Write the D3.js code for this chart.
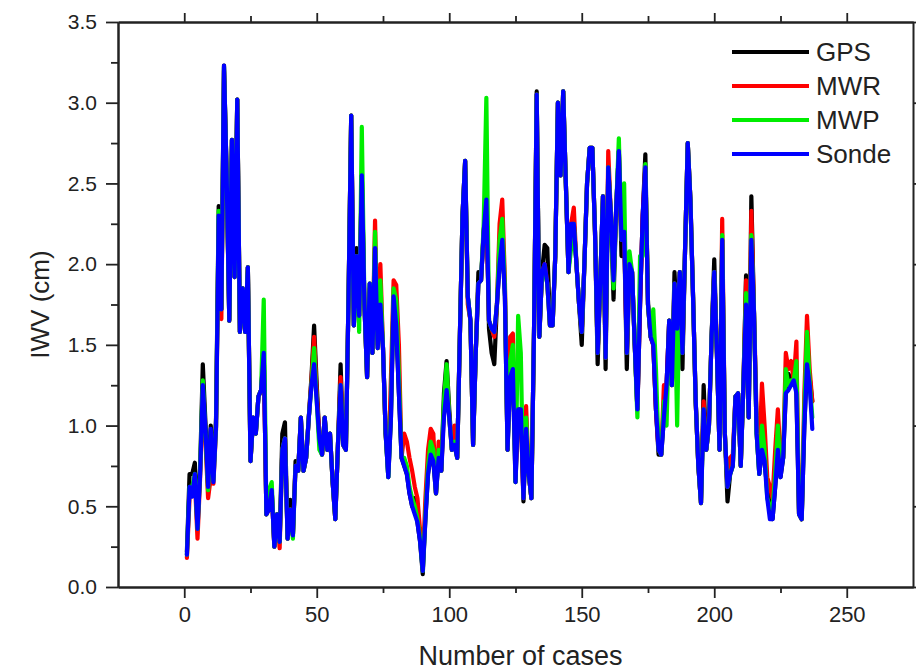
<!DOCTYPE html>
<html><head><meta charset="utf-8">
<script src="https://cdn.jsdelivr.net/npm/d3@7"></script>
<style>body{margin:0;background:#fff}svg{display:block}text{font-family:"Liberation Sans",Arial,sans-serif;fill:#222}</style>
</head><body><svg id="c" width="916" height="670"></svg>
<script>
const seriesNames = ["GPS","MWR","MWP","Sonde"];
const seriesColors = ["#000000","#ff0000","#00ee00","#0000ff"];
const xTickValues = [0,50,100,150,200,250];
const yTickValues = [0,0.5,1,1.5,2,2.5,3,3.5];

const sonde = [0.20,0.62,0.56,0.70,0.36,0.70,1.25,0.98,0.62,0.98,0.65,1.00,2.30,1.72,3.23,2.55,1.65,2.77,1.92,3.02,
1.58,1.85,1.58,1.98,0.78,1.05,0.95,1.18,1.22,1.45,0.45,0.48,0.60,0.25,0.45,0.28,0.85,0.92,0.30,0.48,
0.32,0.75,0.72,1.05,0.72,0.80,1.05,1.25,1.38,1.15,0.92,0.82,1.05,0.85,0.95,0.65,0.42,0.88,1.25,0.88,
0.85,1.80,2.92,1.62,2.05,1.68,2.55,1.75,1.30,1.88,1.45,2.10,1.48,1.75,1.48,0.95,0.68,1.05,1.80,1.62,
1.20,0.80,0.75,0.70,0.58,0.50,0.45,0.40,0.28,0.10,0.42,0.70,0.82,0.78,0.58,0.80,0.72,1.05,1.22,1.05,
0.85,0.88,0.80,1.55,2.30,2.64,1.80,1.65,0.88,1.45,1.88,1.90,2.20,2.40,1.65,1.60,1.58,1.75,2.00,2.15,
1.80,0.85,1.30,1.35,0.65,1.10,1.10,0.55,0.98,0.70,0.55,1.60,3.05,1.55,1.95,2.00,1.88,1.62,1.62,2.05,
3.00,2.55,3.07,2.50,1.95,2.25,2.25,2.00,1.75,1.58,2.00,2.50,2.72,2.72,2.20,1.45,1.90,2.42,1.42,2.60,
2.30,1.90,2.35,2.70,2.15,2.20,1.45,2.00,1.95,1.50,1.10,1.75,2.30,2.60,1.75,1.55,1.50,1.10,0.85,0.82,
1.05,1.25,1.65,1.25,1.88,1.60,1.95,1.45,2.10,2.75,2.40,1.80,1.15,0.75,0.52,1.10,0.85,1.00,1.55,1.95,
1.45,0.85,2.15,0.95,0.62,0.70,0.75,1.18,1.20,0.75,1.25,1.75,1.05,2.15,1.70,0.95,0.70,0.85,0.78,0.55,
0.42,0.42,0.62,0.85,0.68,0.80,1.20,1.22,1.25,1.28,1.20,0.45,0.42,1.00,1.38,1.25,0.98];

const gps = [0.22,0.70,0.70,0.77,0.40,0.74,1.38,1.02,0.64,1.00,0.70,1.05,2.36,1.72,3.23,2.55,1.65,2.77,1.92,3.02,
1.58,1.85,1.58,1.98,0.78,1.05,0.95,1.18,1.22,1.45,0.45,0.50,0.60,0.25,0.45,0.28,0.95,1.02,0.30,0.54,
0.32,0.78,0.72,1.05,0.72,0.80,1.05,1.30,1.62,1.25,0.92,0.82,1.05,0.85,0.95,0.65,0.42,0.88,1.38,0.88,
0.85,1.80,2.92,1.62,2.10,1.68,2.55,1.75,1.30,1.88,1.45,2.10,1.50,1.75,1.48,0.95,0.68,1.05,1.80,1.62,
1.20,0.80,0.75,0.70,0.58,0.50,0.55,0.40,0.28,0.08,0.42,0.70,0.82,0.78,0.58,0.80,0.72,1.20,1.40,1.10,
0.85,0.88,0.80,1.55,2.30,2.64,1.80,1.65,0.88,1.45,1.95,1.90,2.20,2.40,1.60,1.45,1.38,1.75,2.00,2.15,
1.80,0.85,1.30,1.35,0.65,1.10,1.10,0.53,0.98,0.70,0.55,1.60,3.07,1.55,1.95,2.12,2.10,1.62,1.62,2.05,
3.00,2.55,3.07,2.50,1.95,2.25,2.25,2.00,1.75,1.50,2.00,2.50,2.72,2.72,2.20,1.38,1.90,2.42,1.35,2.60,
2.30,1.78,2.35,2.70,2.05,2.20,1.35,2.00,1.95,1.50,1.10,1.75,2.30,2.68,1.75,1.55,1.50,1.10,0.82,0.82,
1.05,1.25,1.65,1.25,1.95,1.60,1.95,1.35,2.10,2.75,2.40,1.80,1.15,0.75,0.52,1.25,0.85,1.00,1.55,2.03,
1.45,0.85,2.15,0.95,0.53,0.70,0.75,1.18,1.20,0.75,1.25,1.93,1.05,2.42,1.70,0.95,0.70,0.85,0.78,0.60,
0.55,0.42,0.62,0.85,0.68,0.80,1.20,1.32,1.25,1.35,1.20,0.45,0.42,1.00,1.38,1.30,1.15];

const mwr = [0.18,0.55,0.60,0.66,0.30,0.68,1.22,0.90,0.55,0.68,0.64,0.98,2.25,1.66,3.20,2.55,1.65,2.77,1.92,3.02,
1.58,1.85,1.58,1.98,0.78,1.05,0.95,1.18,1.22,1.45,0.45,0.48,0.60,0.25,0.45,0.24,0.85,0.92,0.30,0.48,
0.32,0.75,0.72,1.05,0.72,0.80,1.05,1.28,1.55,1.20,0.92,0.82,1.05,0.85,0.95,0.65,0.42,0.88,1.30,0.88,
0.85,1.80,2.92,1.62,2.05,1.68,2.55,1.75,1.30,1.85,1.45,2.27,1.48,2.00,1.48,0.95,0.72,1.30,1.90,1.87,
1.50,0.80,0.95,0.90,0.80,0.72,0.62,0.55,0.35,0.15,0.55,0.85,0.98,0.95,0.58,0.90,0.72,1.10,1.32,1.05,
0.85,1.00,0.80,1.55,2.30,2.64,1.75,1.65,0.88,1.45,1.88,1.90,2.20,2.40,1.65,1.60,1.55,1.75,2.25,2.40,
1.90,0.85,1.55,1.57,0.70,1.10,1.10,0.55,1.12,0.70,0.55,1.60,3.05,1.55,1.95,2.00,1.88,1.62,1.62,2.05,
3.00,2.55,3.07,2.50,1.95,2.25,2.35,2.00,1.75,1.58,2.00,2.50,2.72,2.72,2.20,1.45,1.90,2.42,1.42,2.70,
2.30,1.90,2.35,2.70,2.15,2.20,1.45,2.00,1.95,1.50,1.10,1.75,2.30,2.60,1.75,1.55,1.50,1.10,0.85,0.82,
1.25,1.25,1.65,1.25,1.88,1.60,1.95,1.45,2.10,2.75,2.40,1.80,1.15,0.75,0.52,1.15,0.85,1.00,1.55,1.95,
1.45,0.85,2.28,0.95,0.62,0.80,0.82,1.18,1.20,0.75,1.25,1.90,1.05,2.33,1.70,1.05,0.80,1.26,1.00,0.68,
0.62,0.55,0.85,1.10,0.80,0.80,1.45,1.35,1.40,1.28,1.52,0.45,0.42,1.20,1.68,1.35,1.15];

const mwp = [0.20,0.62,0.62,0.70,0.36,0.72,1.28,0.95,0.60,0.95,0.66,1.00,2.33,1.72,3.22,2.55,1.65,2.77,1.92,3.02,
1.58,1.85,1.58,1.98,0.78,1.05,0.95,1.18,1.22,1.78,0.45,0.60,0.65,0.25,0.45,0.28,0.85,0.92,0.30,0.48,
0.30,0.75,0.72,1.05,0.72,0.80,1.05,1.25,1.48,1.15,0.85,0.82,1.05,0.85,0.95,0.65,0.42,0.88,1.25,0.88,
0.85,1.80,2.92,1.62,2.05,1.58,2.85,1.75,1.30,1.88,1.45,2.20,1.48,1.90,1.48,0.95,0.68,1.10,1.85,1.78,
1.30,0.80,0.80,0.75,0.62,0.55,0.50,0.42,0.30,0.10,0.45,0.75,0.90,0.85,0.58,0.85,0.72,1.15,1.38,1.05,
0.85,0.90,0.80,1.55,2.30,2.64,1.80,1.65,0.88,1.45,1.88,1.90,2.25,3.03,1.65,1.60,1.58,1.75,2.15,2.28,
1.85,0.85,1.40,1.50,0.65,1.68,1.45,0.55,1.05,0.70,0.55,1.60,3.05,1.55,1.95,1.95,1.88,1.62,1.62,2.05,
3.00,2.55,3.07,2.50,1.95,2.10,2.25,2.00,1.75,1.58,2.00,2.50,2.72,2.72,2.20,1.45,1.90,2.42,1.42,2.60,
2.30,1.85,2.35,2.78,2.15,2.50,1.45,2.08,1.95,1.50,1.05,2.05,2.05,2.62,1.75,1.55,1.72,1.35,0.85,0.82,
1.15,1.00,1.65,1.25,1.88,1.00,1.95,1.45,2.10,2.75,2.40,1.80,1.15,0.75,0.52,1.10,0.85,1.00,1.55,1.95,
1.45,0.85,2.18,0.95,0.62,0.70,0.75,1.18,1.20,0.75,1.25,1.82,1.05,2.18,1.70,0.95,0.70,1.00,0.85,0.55,
0.50,0.48,0.70,1.00,0.72,0.80,1.35,1.25,1.28,1.28,1.40,0.45,0.42,1.10,1.58,1.28,1.05];

const allSeries = [gps, mwr, mwp, sonde];

const svg = d3.select("#c");
const L = 118, R = 913, T = 22, B = 587;
const x = d3.scaleLinear().domain([-25, 275]).range([L, R]);
const y = d3.scaleLinear().domain([0, 3.5]).range([B, T]);

const minorX = d3.range(25, 275, 50);
const minorY = d3.range(0.25, 3.5, 0.5);
const FONT = "Liberation Sans, Arial, sans-serif";

function styleAxis(g){
  g.selectAll("path.domain").attr("stroke","#222").attr("stroke-width",2);
  g.selectAll(".tick line").attr("stroke","#222").attr("stroke-width",1.8);
}

// bottom
svg.append("g").attr("transform",`translate(0,${B})`)
  .call(d3.axisBottom(x).tickValues(xTickValues).tickSize(11).tickSizeOuter(0).tickPadding(8).tickFormat(d3.format("d")))
  .call(styleAxis)
  .call(g=>g.selectAll("text").attr("font-size",22).attr("font-family",FONT).attr("fill","#222"));
svg.append("g").attr("transform",`translate(0,${B})`)
  .call(d3.axisBottom(x).tickValues(minorX).tickSize(6).tickSizeOuter(0).tickFormat(""))
  .call(styleAxis);
// top
svg.append("g").attr("transform",`translate(0,${T})`)
  .call(d3.axisTop(x).tickValues(xTickValues).tickSize(9).tickSizeOuter(0).tickFormat(""))
  .call(styleAxis);
svg.append("g").attr("transform",`translate(0,${T})`)
  .call(d3.axisTop(x).tickValues(minorX).tickSize(6).tickSizeOuter(0).tickFormat(""))
  .call(styleAxis);
// left
svg.append("g").attr("transform",`translate(${L},0)`)
  .call(d3.axisLeft(y).tickValues(yTickValues).tickSize(12).tickSizeOuter(0).tickPadding(9).tickFormat(d3.format(".1f")))
  .call(styleAxis)
  .call(g=>g.selectAll("text").attr("font-size",21).attr("font-family",FONT).attr("fill","#222"));
svg.append("g").attr("transform",`translate(${L},0)`)
  .call(d3.axisLeft(y).tickValues(minorY).tickSize(7).tickSizeOuter(0).tickFormat(""))
  .call(styleAxis);
// right
svg.append("g").attr("transform",`translate(${R},0)`)
  .call(d3.axisRight(y).tickValues(yTickValues).tickSize(8).tickSizeOuter(0).tickFormat(""))
  .call(styleAxis);

// lines
const line = d3.line().x((d,i)=>x(i+1)).y(d=>y(d)).curve(d3.curveLinear);
const plot = svg.append("g");
allSeries.forEach((s,k)=>{
  plot.append("path").datum(s).attr("d",line)
    .attr("fill","none").attr("stroke",seriesColors[k]).attr("stroke-width",4.2)
    .attr("stroke-linejoin","round").attr("stroke-linecap","round");
});

// legend
const leg = svg.append("g");
seriesNames.forEach((n,k)=>{
  const yy = 52 + k*34;
  leg.append("line").attr("x1",732).attr("x2",809).attr("y1",yy).attr("y2",yy)
    .attr("stroke",seriesColors[k]).attr("stroke-width",4);
  leg.append("text").attr("x",816).attr("y",yy).attr("dy","0.36em")
    .attr("font-size",26).attr("font-family",FONT).text(n);
});

// axis titles
svg.append("text").attr("x",(L+R)/2 + 5).attr("y",665).attr("text-anchor","middle")
  .attr("font-size",27).attr("font-family",FONT).text("Number of cases");
svg.append("text").attr("transform",`translate(49,${(T+B)/2}) rotate(-90)`).attr("text-anchor","middle")
  .attr("font-size",26).attr("font-family",FONT).text("IWV (cm)");
</script></body></html>
